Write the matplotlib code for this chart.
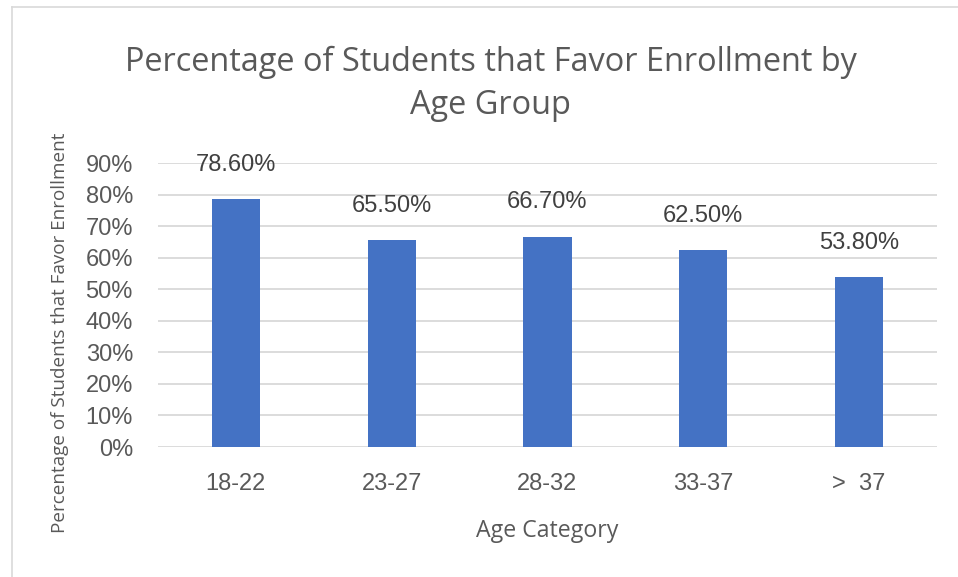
import matplotlib.pyplot as plt
from matplotlib.lines import Line2D

categories = ['18-22', '23-27', '28-32', '33-37', '>  37']
values = [0.786, 0.655, 0.667, 0.625, 0.538]
yticks = [0, 0.1, 0.2, 0.3, 0.4, 0.5, 0.6, 0.7, 0.8, 0.9]

fig = plt.figure(figsize=(9.58, 5.77), dpi=100)
ax = fig.add_axes([0.1649, 0.2253, 0.8131, 0.4922])

x = range(len(categories))
ax.bar(x, values, width=0.31, color='#4472C4', zorder=3)
for xi, v in zip(x, values):
    ax.annotate(f'{v*100:.2f}%', (xi, v), xytext=(0, 24.5), textcoords='offset points',
                ha='center', va='center', fontsize=17, color='#404040',
                family='Liberation Sans')

ax.set_xlim(-0.5, len(categories) - 0.5)
ax.set_ylim(0, 0.9)
ax.set_yticks(yticks)
ax.set_yticklabels([f'{int(round(t*100))}%' for t in yticks], family='Liberation Sans',
                   fontsize=17, color='#595959')
ax.set_xticks(list(x))
ax.set_xticklabels(categories, family='Liberation Sans', fontsize=17, color='#595959')
ax.tick_params(axis='both', length=0)
ax.tick_params(axis='x', pad=19)
ax.tick_params(axis='y', pad=18)
ax.grid(axis='y', color='#D9D9D9', linewidth=1.3, zorder=0)
for s in ax.spines.values():
    s.set_visible(False)

ax.set_xlabel('Age Category', family='Open Sans', fontsize=16.7, color='#595959', labelpad=17)
fig.text(0.063, 0.423, 'Percentage of Students that Favor Enrollment', rotation=90,
         ha='center', va='center', family='Open Sans', fontsize=13.6, color='#595959')

fig.text(0.512, 0.855, 'Percentage of Students that Favor Enrollment by\nAge Group',
         ha='center', va='center', family='Open Sans', fontsize=23.4, color='#595959',
         linespacing=1.38)

# chart border (top and left visible)
fig.add_artist(Line2D([12/958, 1], [1 - 7/577, 1 - 7/577], color='#D9D9D9', linewidth=1.2))
fig.add_artist(Line2D([12/958, 12/958], [0, 1 - 7/577], color='#D9D9D9', linewidth=1.2))

fig.savefig('out.png', dpi=100)
